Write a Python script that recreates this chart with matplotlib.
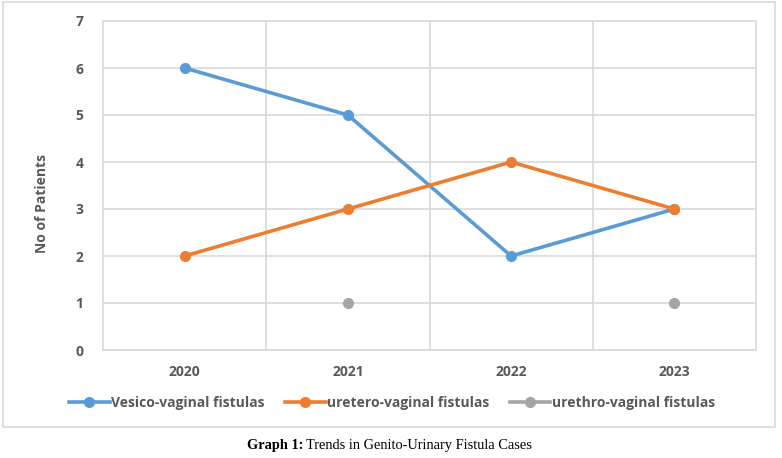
import numpy as np
from matplotlib import pyplot as plt
from matplotlib.patches import Rectangle

years = ['2020', '2021', '2022', '2023']
vesico = [6, 5, 2, 3]
uretero = [2, 3, 4, 3]
urethro = [np.nan, 1, np.nan, 1]

txt = '#595959'
grid = '#D9D9D9'

plt.rcParams['font.family'] = ['Open Sans', 'DejaVu Sans']

fig = plt.figure(figsize=(7.82, 4.58), dpi=100)
ax = fig.add_axes([103/782, 1-350/458, (756-103)/782, (350-21)/458])

x = np.arange(len(years))
ax.plot(x, vesico, color='#5B9BD5', lw=2.6, marker='o', ms=7, label='Vesico-vaginal fistulas')
ax.plot(x, uretero, color='#ED7D31', lw=2.6, marker='o', ms=7, label='uretero-vaginal fistulas')
ax.plot(x, urethro, color='#A5A5A5', lw=2.6, marker='o', ms=7, label='urethro-vaginal fistulas')

ax.set_xlim(-0.5, 3.5)
ax.set_ylim(0, 7)
ax.set_xticks(x)
ax.set_xticklabels(years)
ax.set_yticks(range(8))
ax.set_xticks([0.5, 1.5, 2.5], minor=True)
ax.grid(axis='y', color=grid, lw=1.2)
ax.grid(axis='x', which='minor', color=grid, lw=1.2)
ax.tick_params(which='both', length=0)
ax.tick_params(axis='x', pad=11, labelsize=10, labelcolor=txt)
ax.tick_params(axis='y', pad=14, labelsize=10, labelcolor=txt)
for lab in ax.get_xticklabels() + ax.get_yticklabels():
    lab.set_fontweight('bold')
for s in ax.spines.values():
    s.set_color(grid)
    s.set_linewidth(1.2)
ax.set_ylabel('No of Patients', fontsize=10, fontweight='bold', color=txt)
ax.yaxis.set_label_coords(-0.082, 0.444)

leg = fig.legend(loc='center', bbox_to_anchor=(392/782, 1-403/458), ncol=3, frameon=False,
                 handlelength=2.9, handletextpad=0.1, columnspacing=1.5, fontsize=10)
for t in leg.get_texts():
    t.set_color(txt)
    t.set_fontweight('bold')

# chart border
fig.patches.append(Rectangle((3/782, 1-427/458), 772/782, 425/458, transform=fig.transFigure,
                             fill=False, edgecolor=grid, lw=1.2))

# caption
cap_y = 1-446/458
t1 = fig.text(247/782, cap_y, 'Graph 1:', family='Liberation Serif', fontweight='bold',
              fontsize=10.4, va='center', ha='left')
fig.canvas.draw()
bb = t1.get_window_extent()
fig.text(bb.x1/782 + 3/782, cap_y, 'Trends in Genito-Urinary Fistula Cases',
         family='Liberation Serif', fontsize=10.4, va='center', ha='left')

fig.savefig('out.png', dpi=100)
